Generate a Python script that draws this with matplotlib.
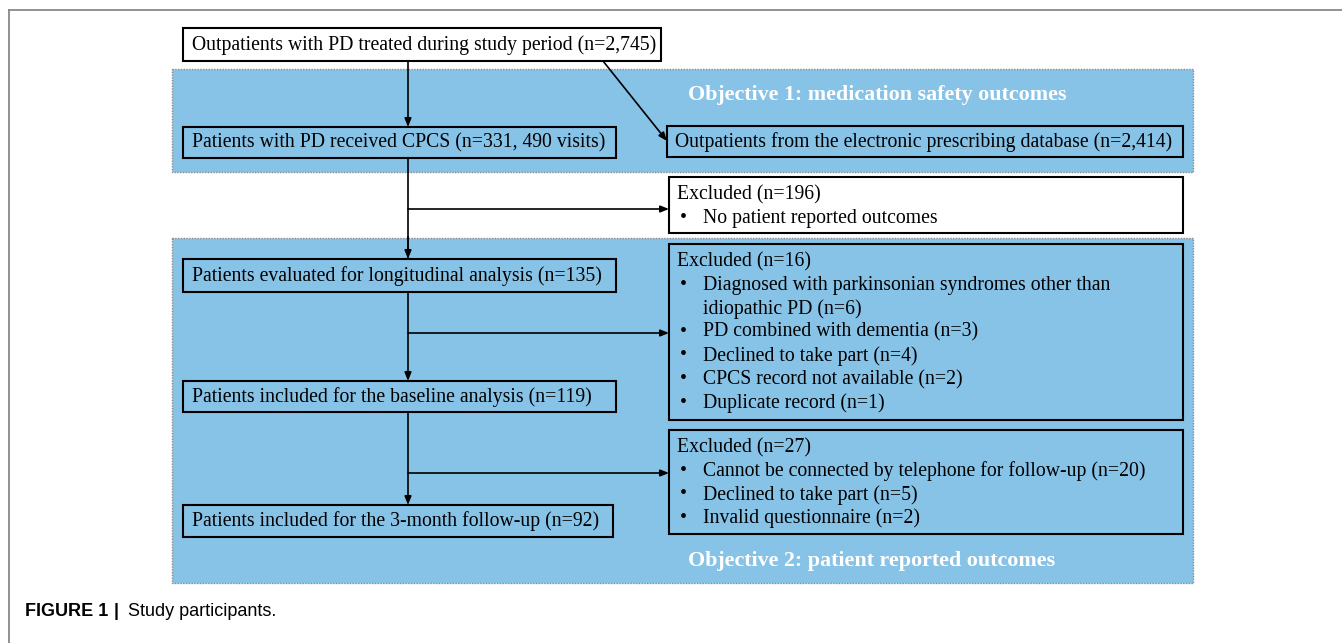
import matplotlib.pyplot as plt
from matplotlib.patches import Rectangle

# Flowchart content
top_text = 'Outpatients with PD treated during study period (n=2,745)'
left_texts = [
    'Patients with PD received CPCS (n=331, 490 visits)',
    'Patients evaluated for longitudinal analysis (n=135)',
    'Patients included for the baseline analysis (n=119)',
    'Patients included for the 3-month follow-up (n=92)',
]
db_text = 'Outpatients from the electronic prescribing database (n=2,414)'
excl_heads = ['Excluded (n=196)', 'Excluded (n=16)', 'Excluded (n=27)']
excl_items = [
    ['No patient reported outcomes'],
    ['Diagnosed with parkinsonian syndromes other than\nidiopathic PD (n=6)',
     'PD combined with dementia (n=3)',
     'Declined to take part (n=4)',
     'CPCS record not available (n=2)',
     'Duplicate record (n=1)'],
    ['Cannot be connected by telephone for follow-up (n=20)',
     'Declined to take part (n=5)',
     'Invalid questionnaire (n=2)'],
]
objective_titles = ['Objective 1: medication safety outcomes',
                    'Objective 2: patient reported outcomes']

BLUE = '#87C2E7'
SERIF = 'Liberation Serif'
FS = 14.2

fig = plt.figure(figsize=(13.42, 6.43), dpi=100)
ax = fig.add_axes([0, 0, 1, 1])
ax.set_xlim(0, 1342)
ax.set_ylim(643, 0)
ax.axis('off')

# outer frame (top + left)
ax.plot([9, 1342], [10, 10], color='#888888', lw=1.3)
ax.plot([9, 9], [10, 643], color='#888888', lw=1.3)

# blue objective panels
for (y0, y1) in [(69, 172), (238, 583)]:
    ax.add_patch(Rectangle((172, y0), 1193 - 172, y1 - y0, facecolor=BLUE,
                           edgecolor='#8a8a8a', lw=1.0, ls=(0, (1, 1)), zorder=0))


def box(x0, y0, x1, y1, face):
    ax.add_patch(Rectangle((x0, y0), x1 - x0, y1 - y0, facecolor=face,
                           edgecolor='black', lw=1.5, zorder=2))


def arrow(x0, y0, x1, y1):
    ax.annotate('', xy=(x1, y1), xytext=(x0, y0), zorder=3,
                arrowprops=dict(arrowstyle='-|>,head_length=0.5,head_width=0.2',
                                color='black', lw=1.2, shrinkA=0, shrinkB=0))


# top box
box(183, 28, 661, 61, 'white')
ax.text(192, 45, top_text, fontsize=FS, family=SERIF, va='center', zorder=4)

# left column boxes
left_boxes = [(127, 158, 616), (259, 292, 616), (381, 412, 616), (505, 537, 613)]
for txt, (y0, y1, x1) in zip(left_texts, left_boxes):
    box(183, y0, x1, y1, BLUE)
    ax.text(192, (y0 + y1) / 2 + 0.5, txt, fontsize=FS, family=SERIF, va='center', zorder=4)

# database box
box(667, 126, 1183, 157, BLUE)
ax.text(675, 142, db_text, fontsize=FS, family=SERIF, va='center', zorder=4)

# exclusion boxes
excl_boxes = [(177, 233, 'white'), (244, 420, BLUE), (430, 534, BLUE)]
line_h = 23.6
for head, items, (y0, y1, face) in zip(excl_heads, excl_items, excl_boxes):
    box(669, y0, 1183, y1, face)
    y = y0 + 17.5
    ax.text(677, y, head, fontsize=FS, family=SERIF, va='center', zorder=4)
    for item in items:
        y += line_h
        ax.text(680, y, '\u2022', fontsize=FS, family=SERIF, va='center', zorder=4)
        parts = item.split('\n')
        for k, part in enumerate(parts):
            ax.text(703, y, part, fontsize=FS, family=SERIF, va='center', zorder=4)
            if k < len(parts) - 1:
                y += line_h

# objective titles
ax.text(688, 95, objective_titles[0], fontsize=15.8, family=SERIF, weight='bold',
        color='white', ha='left', va='center', zorder=4)
ax.text(688, 561, objective_titles[1], fontsize=15.8, family=SERIF, weight='bold',
        color='white', ha='left', va='center', zorder=4)

# arrows / connectors
xm = 408
arrow(xm, 61, xm, 127)
arrow(603, 61, 667, 141)
ax.plot([xm, xm], [158, 259], color='black', lw=1.2, zorder=3)
arrow(xm, 237, xm, 259)
arrow(xm, 209, 669, 209)
arrow(xm, 292, xm, 381)
arrow(xm, 333, 669, 333)
arrow(xm, 412, xm, 505)
arrow(xm, 473, 669, 473)

# caption
ax.text(25, 611, 'FIGURE 1', fontsize=13, family='Liberation Sans', weight='bold',
        va='center')
ax.text(114, 611, '|', fontsize=13, family='Liberation Sans', weight='bold',
        va='center')
ax.text(128, 611, 'Study participants.', fontsize=13, family='Liberation Sans',
        va='center')

fig.savefig('out.png', dpi=100, facecolor='white')
